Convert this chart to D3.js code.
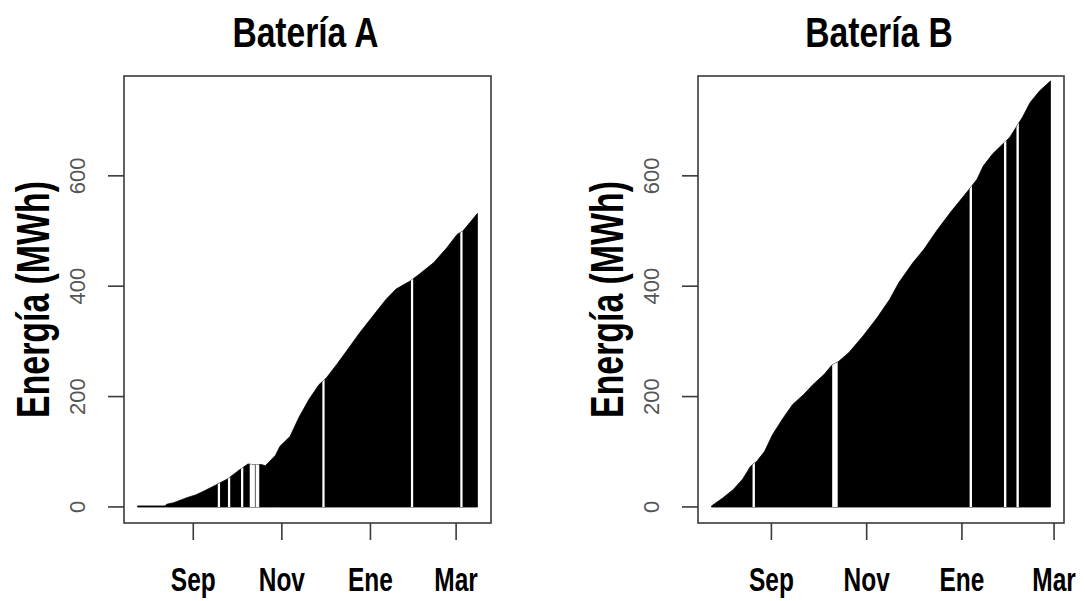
<!DOCTYPE html>
<html>
<head>
<meta charset="utf-8">
<script src="https://cdn.jsdelivr.net/npm/d3@7"></script>
<style>
  html, body { margin: 0; padding: 0; background: #fff; }
  svg { display: block; }
</style>
</head>
<body>
<svg id="chart" width="1085" height="601"></svg>
<script>
// ---------------- DATA ----------------
const datesA = ["2021-07-25","2021-08-13","2021-08-14","2021-08-19","2021-08-28","2021-09-03","2021-09-08",
  "2021-09-17","2021-09-25","2021-10-03","2021-10-09","2021-10-15","2021-10-18","2021-10-21","2021-10-28",
  "2021-10-31","2021-11-07","2021-11-13","2021-11-20","2021-11-27","2021-12-02","2021-12-09","2021-12-16",
  "2021-12-25","2022-01-03","2022-01-12","2022-01-19","2022-01-29","2022-02-04","2022-02-14","2022-02-23",
  "2022-03-02","2022-03-06","2022-03-11","2022-03-16"];
const valuesA = [0,0,3,6,15,20,26,38,49,65,76,74,75,73,92,108,126,160,193,220,232,256,281,314,344,374,393,
  408,420,441,468,492,498,514,530];
const missingA = ["2021-09-19","2021-09-26","2021-10-05","2021-10-11","2021-10-12","2021-10-13","2021-10-15",
  "2021-10-16","2021-11-30","2022-01-30","2022-03-05"];

const datesB = ["2021-07-25","2021-08-01","2021-08-08","2021-08-14","2021-08-19","2021-08-23","2021-08-28",
  "2021-09-02","2021-09-09","2021-09-15","2021-09-22","2021-09-28","2021-10-05","2021-10-10","2021-10-14",
  "2021-10-21","2021-10-30","2021-11-08","2021-11-16","2021-11-22","2021-12-01","2021-12-08","2021-12-16",
  "2021-12-25","2021-12-31","2022-01-06","2022-01-11","2022-01-15","2022-01-21","2022-01-29","2022-02-01",
  "2022-02-05","2022-02-09","2022-02-14","2022-02-20","2022-02-27"];
const valuesB = [0,14,30,49,72,81,99,129,160,184,202,220,238,255,261,278,308,341,374,405,441,465,498,532,553,
  574,592,616,638,660,668,686,704,731,752,770];
const missingB = ["2021-08-21","2021-10-11","2021-10-12","2021-10-13","2022-01-07","2022-01-29","2022-02-06"];

const titles = ["Batería A", "Batería B"];
const yTitle = "Energía (MWh)";
const yTicks = [0, 200, 400, 600];
const yLimits = [0, 750];
const xTickDates = ["2021-09-01","2021-11-01","2022-01-01","2022-03-01"];
const xTickLabels = ["Sep","Nov","Ene","Mar"];

// ---------------- DRAW ----------------
const parse = d3.utcParse("%Y-%m-%d");
const svg = d3.select("#chart");
const FONT = "'Liberation Sans', Arial, Helvetica, sans-serif";

const panels = [
  {title: titles[0], dates: datesA, values: valuesA, missing: missingA, left: 124, right: 491},
  {title: titles[1], dates: datesB, values: valuesB, missing: missingB, left: 698, right: 1064}
];
const plotTop = 76, plotBottom = 523;

panels.forEach((p, pi) => {
  const data = p.dates.map((d, i) => ({date: parse(d), value: p.values[i]}));
  const [a, b] = d3.extent(data, d => d.date);
  const padX = (b - a) * 0.04;
  const x = d3.scaleUtc().domain([new Date(+a - padX), new Date(+b + padX)]).range([p.left, p.right]);
  const padY = (yLimits[1] - yLimits[0]) * 0.04;
  const y = d3.scaleLinear().domain([yLimits[0] - padY, yLimits[1] + padY]).range([plotBottom, plotTop]);

  const g = svg.append("g");

  // filled cumulative area (type = "h" look)
  const area = d3.area().x(d => x(d.date)).y0(y(0) + 0.6).y1(d => y(d.value) - 0.5).curve(d3.curveLinear);
  const clipId = "clip" + pi;
  g.append("clipPath").attr("id", clipId).append("path").attr("d", area(data));
  g.append("path").attr("d", area(data)).attr("fill", "#000").attr("stroke", "#000").attr("stroke-width", 0.8);

  // gaps (missing days) as white lines, clipped to the filled area
  g.append("g").attr("clip-path", `url(#${clipId})`)
    .selectAll("rect").data(p.missing.map(parse)).join("rect")
    .attr("x", d => x(d3.utcHour.offset(d, -12)) - 0.4)
    .attr("width", d => x(d3.utcHour.offset(d, 12)) - x(d3.utcHour.offset(d, -12)) + 0.8)
    .attr("y", plotTop).attr("height", plotBottom - plotTop)
    .attr("fill", "#fff");

  // box
  g.append("rect").attr("x", p.left).attr("y", plotTop)
    .attr("width", p.right - p.left).attr("height", plotBottom - plotTop)
    .attr("fill", "none").attr("stroke", "#3a3a3a").attr("stroke-width", 1.6);

  // y axis
  const yAxis = g.append("g").attr("transform", `translate(${p.left},0)`)
    .call(d3.axisLeft(y).tickValues(yTicks).tickSize(16).tickFormat(d3.format("d")));
  yAxis.select(".domain").remove();
  yAxis.selectAll("line").attr("stroke", "#3a3a3a").attr("stroke-width", 1.6);
  yAxis.selectAll("text")
    .attr("transform", "rotate(-90)")
    .attr("x", 0).attr("y", -39).attr("dy", 0)
    .attr("text-anchor", "middle")
    .attr("fill", "#555")
    .style("font-family", FONT).style("font-size", "22px");

  // x axis
  const xAxis = g.append("g").attr("transform", `translate(0,${plotBottom})`)
    .call(d3.axisBottom(x).tickValues(xTickDates.map(parse)).tickSize(17)
      .tickFormat((d, i) => xTickLabels[i]));
  xAxis.select(".domain").remove();
  xAxis.selectAll("line").attr("stroke", "#3a3a3a").attr("stroke-width", 1.6);
  xAxis.selectAll("text")
    .attr("y", 68).attr("dy", 0).attr("x", 0)
    .attr("transform", "scale(0.72,1)")
    .attr("fill", "#000")
    .style("font-family", FONT).style("font-size", "34px").style("font-weight", "bold");

  // title
  svg.append("g").attr("transform", `translate(${(p.left + p.right) / 2 - 2},47)`)
    .append("text").attr("transform", "scale(0.8,1)")
    .attr("text-anchor", "middle")
    .style("font-family", FONT).style("font-size", "42px").style("font-weight", "bold")
    .text(p.title);

  // y title
  svg.append("g").attr("transform", `translate(${p.left - 75},${(plotTop + plotBottom) / 2})rotate(-90)`)
    .append("text").attr("transform", "scale(0.72,1)")
    .attr("text-anchor", "middle")
    .style("font-family", FONT).style("font-size", "47px").style("font-weight", "bold")
    .text(yTitle);
});
</script>
</body>
</html>
